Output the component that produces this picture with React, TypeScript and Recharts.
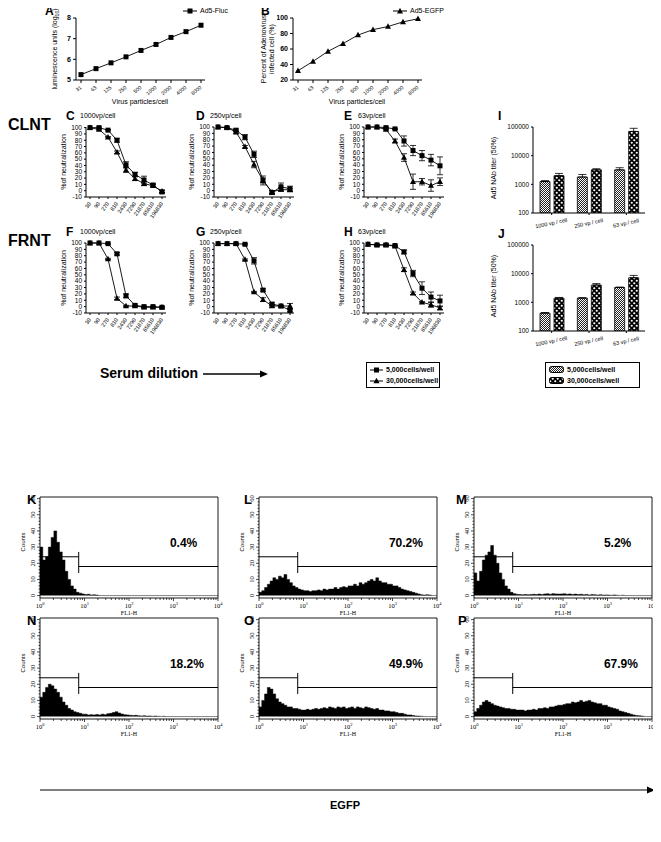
import React from 'react';
import {
  LineChart, Line, XAxis, YAxis, ErrorBar, BarChart, Bar,
  AreaChart, Area, ReferenceLine, ReferenceArea,
} from 'recharts';

const SANS = '"Liberation Sans", Arial, sans-serif';
const SERIF = '"Liberation Serif", "Times New Roman", serif';

// A / B: dose response
const doseLabels = ['31', '63', '125', '250', '500', '1000', '2000', '4000', '8000'];
const flucLog = [5.26, 5.55, 5.83, 6.12, 6.43, 6.72, 7.06, 7.34, 7.65];
const egfpPct = [32, 44, 57, 67, 78, 85, 89, 95, 99];

// C-H: neutralization curves
const dilutions = ['30', '90', '270', '810', '2430', '7290', '21870', '65610', '196830'];
const cSq = [100, 100, 96, 80, 41, 26, 17, 9, -2];
const cSqErr = [0, 1, 1, 3, 5, 3, 6, 2, 2];
const cTri = [100, 97, 85, 61, 33, 19, 11, 8, -1];
const cTriErr = [0, 1, 1, 2, 4, 3, 3, 2, 2];
const dSq = [100, 99, 95, 84, 57, 16, -3, 6, 3];
const dSqErr = [0, 1, 2, 4, 5, 7, 3, 6, 4];
const dTri = [100, 99, 92, 69, 41, 16, -2, 2, 1];
const dTriErr = [0, 1, 2, 2, 5, 4, 2, 3, 2];
const eSq = [100, 100, 99, 97, 78, 63, 55, 48, 39];
const eSqErr = [0, 0, 1, 1, 8, 8, 8, 9, 14];
const eTri = [100, 100, 96, 78, 52, 14, 14, 8, 14];
const eTriErr = [0, 0, 1, 3, 6, 12, 5, 9, 6];
const fSq = [100, 100, 99, 83, 17, 2, 0, 0, -1];
const fSqErr = [0, 0, 1, 2, 3, 2, 1, 1, 1];
const fTri = [100, 100, 75, 13, 1, 1, -1, -1, -1];
const fTriErr = [0, 0, 1, 2, 1, 1, 1, 1, 1];
const gSq = [99, 99, 99, 98, 72, 26, 4, 1, -6];
const gSqErr = [0, 0, 1, 1, 5, 2, 2, 1, 2];
const gTri = [99, 99, 99, 74, 23, 11, 1, 1, 1];
const gTriErr = [0, 0, 0, 1, 1, 3, 2, 1, 4];
const hSq = [98, 97, 97, 96, 86, 52, 29, 15, 9];
const hSqErr = [0, 1, 2, 1, 3, 5, 10, 8, 9];
const hTri = [98, 97, 97, 95, 58, 21, 7, 3, -2];
const hTriErr = [0, 1, 1, 1, 3, 2, 1, 4, 3];

// I / J: NAb titers
const titerCats = ['1000 vp / cell', '250 vp / cell', '63 vp / cell'];
const iLow = [1250, 1800, 3200];
const iLowErr = [100, 400, 600];
const iHigh = [2000, 3200, 70000];
const iHighErr = [400, 300, 20000];
const jLow = [420, 1400, 3300];
const jLowErr = [20, 50, 100];
const jHigh = [1400, 4000, 7200];
const jHighErr = [80, 500, 1500];

// K-P: FL1-H histograms, 64 bins over 10^0..10^4
const kBins = [
  30, 22, 24, 30, 36, 40, 33, 27, 22, 15, 10, 6, 4, 2, 1.5, 1,
  0.6, 0.8, 0.4, 0.5, 0.3, 0, 0, 0, 0, 0, 0, 0, 0, 0, 0, 0,
  0, 0, 0, 0, 0, 0, 0, 0, 0, 0, 0, 0, 0, 0, 0, 0,
  0, 0, 0, 0, 0, 0, 0, 0, 0, 0, 0, 0, 0, 0, 0, 0,
];
const lBins = [
  2, 3, 5, 7, 9, 11, 10, 12, 11, 13, 10, 8, 6, 5, 4, 3.5,
  3, 3, 2.5, 3, 3, 3.5, 3, 4, 3.5, 4, 4, 5, 4, 5, 5.5, 5,
  6, 6, 7, 6, 8, 7, 8, 9, 10, 9, 11, 9, 8, 8, 7, 7,
  6, 6, 5, 4, 3.5, 3, 2.5, 2, 1.5, 1, 0.5, 0.3, 0.5, 0.3, 0.1, 0,
];
const mBins = [
  14, 9, 15, 22, 25, 27, 31, 25, 20, 14, 10, 6, 4, 2, 1.2, 0.8,
  0.6, 0.5, 0.7, 0.5, 0.6, 0.8, 0.6, 0.9, 0.7, 1, 1.1, 0.8, 1.2, 1, 0.9, 1,
  1.1, 0.8, 1, 0.7, 0.9, 0.6, 0.8, 0.5, 0.7, 0.4, 0.6, 0.5, 0.3, 0.5, 0.3, 0.4,
  0.3, 0.2, 0.4, 0.2, 0.1, 0.2, 0, 0, 0, 0, 0, 0, 0, 0, 0, 0,
];
const nBins = [
  12, 15, 18, 20, 19, 17, 15, 12, 9, 7, 5, 4, 3, 2.5, 2, 1.5,
  1.5, 1, 1.2, 1, 1.3, 1, 1.5, 1.2, 1.8, 2, 2.5, 3, 2.2, 1.6, 1.2, 1,
  0.8, 0.6, 0.8, 0.5, 0.4, 0.5, 0.3, 0.4, 0.2, 0.3, 0.2, 0.1, 0.2, 0, 0, 0,
  0, 0, 0, 0, 0, 0, 0, 0, 0, 0, 0, 0, 0, 0, 0, 0,
];
const oBins = [
  6, 10, 14, 18, 17, 14, 11, 9, 8, 7, 6, 6, 5, 5, 4.5, 4,
  4, 4.5, 4, 4.5, 5, 4.5, 5, 5.5, 5, 6, 5.5, 5, 6, 5.5, 6, 5,
  5.5, 6, 5, 6, 5.5, 5, 6, 5.5, 5, 4.5, 5, 4, 4, 3.5, 3.5, 3,
  3, 2.5, 2, 2, 1.5, 1, 1, 0.6, 0.4, 0.3, 0.2, 0.1, 0, 0, 0, 0,
];
const pBins = [
  3, 5, 7, 9, 10, 9, 8, 7, 6.5, 6, 5.5, 5, 5, 4.5, 4.5, 4,
  4, 4, 3.5, 4, 4, 4.5, 4, 5, 5, 5.5, 5, 6, 6, 6.5, 7, 7,
  7.5, 8, 8, 9, 8.5, 9, 10, 9, 9.5, 10, 9, 8.5, 8, 8, 7, 7,
  6, 5.5, 5, 4.5, 3.5, 3, 2.5, 2, 1.5, 1, 0.7, 0.5, 0.3, 0.1, 0, 0,
];
const gateM1 = 24;
const gateM2 = 18;
const gateX = 0.87;

// ---------- helpers ----------
const Txt = ({ x, y, size = 7, bold = false, center = false, family = SANS, children }: any) => (
  <div style={{
    position: 'absolute', left: x, top: y, fontSize: size, fontWeight: bold ? 700 : 400,
    fontFamily: family, whiteSpace: 'nowrap', lineHeight: 1,
    transform: center ? 'translateX(-50%)' : undefined,
  }}>{children}</div>
);

const VTxt = ({ x, y, size = 7, family = SANS, children }: any) => (
  <div style={{
    position: 'absolute', left: x, top: y, fontSize: size, fontFamily: family, whiteSpace: 'nowrap',
    lineHeight: 1.1, textAlign: 'center', transform: 'translate(-50%,-50%) rotate(-90deg)',
  }}>{children}</div>
);

const SquareDot = (p: any) => (
  <rect key={`s${p.index}`} x={p.cx - 2.5} y={p.cy - 2.5} width={5} height={5} fill="#000" />
);
const TriDot = (p: any) => (
  <path key={`t${p.index}`} d={`M${p.cx},${p.cy - 3.2} L${p.cx + 3},${p.cy + 2.3} L${p.cx - 3},${p.cy + 2.3} Z`} fill="#000" />
);

const rotTick = (angle: number, size: number) => (p: any) => (
  <text x={p.x} y={p.y + 2} transform={`rotate(${angle} ${p.x} ${p.y + 2})`} textAnchor="end"
    fontSize={size} fontFamily={SANS} fill="#000" dominantBaseline="middle">{p.payload.value}</text>
);

// ---------- A / B ----------
function DosePanel({ ax, top, values, marker, domain, ticks }: any) {
  const yw = 16, mt = 4, mr = 5, xh = 16, pw = 129, ph = 62;
  const data = doseLabels.map((d, i) => ({ d, v: values[i] }));
  return (
    <div style={{ position: 'absolute', left: ax - yw, top: top - mt }}>
      <LineChart width={yw + pw + mr} height={mt + ph + xh} data={data} margin={{ top: mt, right: mr, left: 0, bottom: 0 }}>
        <XAxis dataKey="d" height={xh} padding={{ left: 5, right: 4 }} interval={0} tickSize={3}
          stroke="#000" tick={rotTick(-40, 5.2)} />
        <YAxis width={yw} domain={domain} ticks={ticks} interval={0} tickSize={3} stroke="#000"
          tick={{ fontSize: 7, fill: '#000', fontWeight: 700 }} />
        <Line dataKey="v" stroke="#000" strokeWidth={0.9} isAnimationActive={false}
          dot={marker === 'sq' ? SquareDot : TriDot} />
      </LineChart>
    </div>
  );
}

// ---------- C-H ----------
function NeutPanel({ ax, top, sq, sqE, tri, triE }: any) {
  const yw = 22, mt = 3, mr = 5, xh = 26, pw = 80, ph = 70;
  const data = dilutions.map((d, i) => ({ d, sq: sq[i], sqE: sqE[i], tri: tri[i], triE: triE[i] }));
  return (
    <div style={{ position: 'absolute', left: ax - yw, top: top - mt }}>
      <LineChart width={yw + pw + mr} height={mt + ph + xh} data={data} margin={{ top: mt, right: mr, left: 0, bottom: 0 }}>
        <XAxis dataKey="d" height={xh} padding={{ left: 4, right: 4 }} interval={0} tickSize={2}
          stroke="#000" tick={rotTick(-55, 5.5)} />
        <YAxis width={yw} domain={[-10, 100]} ticks={[-10, 0, 10, 20, 30, 40, 50, 60, 70, 80, 90, 100]}
          interval={0} tickSize={2} stroke="#000" tick={{ fontSize: 6.5, fill: '#000' }} />
        <Line dataKey="tri" stroke="#000" strokeWidth={0.9} isAnimationActive={false} dot={TriDot}>
          <ErrorBar dataKey="triE" width={3} stroke="#000" strokeWidth={0.8} />
        </Line>
        <Line dataKey="sq" stroke="#000" strokeWidth={0.9} isAnimationActive={false} dot={SquareDot}>
          <ErrorBar dataKey="sqE" width={3} stroke="#000" strokeWidth={0.8} />
        </Line>
      </LineChart>
    </div>
  );
}

// ---------- I / J ----------
const Patterns = () => (
  <defs>
    <pattern id="fineChk" width="2" height="2" patternUnits="userSpaceOnUse">
      <rect width="2" height="2" fill="#fff" />
      <rect width="1" height="1" fill="#222" />
      <rect x="1" y="1" width="1" height="1" fill="#222" />
    </pattern>
    <pattern id="bigChk" width="5" height="5" patternUnits="userSpaceOnUse">
      <rect width="5" height="5" fill="#000" />
      <circle cx="1.25" cy="1.25" r="1.1" fill="#fff" />
      <circle cx="3.75" cy="3.75" r="1.1" fill="#fff" />
    </pattern>
  </defs>
);

function TiterPanel({ ax, top, lo, loE, hi, hiE }: any) {
  const yw = 30, mt = 3, mr = 5, xh = 20, pw = 112, ph = 86;
  const data = titerCats.map((c, i) => ({ c, lo: lo[i], loE: [0, loE[i]], hi: hi[i], hiE: [0, hiE[i]] }));
  const catTick = (p: any) => (
    <text x={p.x} y={p.y + 8} transform={`rotate(-12 ${p.x} ${p.y + 8})`} textAnchor="middle"
      fontSize={5.5} fontFamily={SANS} fill="#000">{p.payload.value}</text>
  );
  return (
    <div style={{ position: 'absolute', left: ax - yw, top: top - mt }}>
      <BarChart width={yw + pw + mr} height={mt + ph + xh} data={data} margin={{ top: mt, right: mr, left: 0, bottom: 0 }}
        barGap={4} barCategoryGap="22%">
        <Patterns />
        <XAxis dataKey="c" height={xh} interval={0} tickSize={2} stroke="#000" tick={catTick} />
        <YAxis width={yw} scale="log" domain={[100, 100000]} ticks={[100, 1000, 10000, 100000]} interval={0}
          tickSize={2} stroke="#000" tick={{ fontSize: 6.5, fill: '#000' }} allowDataOverflow />
        <Bar dataKey="lo" fill="url(#fineChk)" stroke="#000" strokeWidth={0.8} barSize={10} isAnimationActive={false}>
          <ErrorBar dataKey="loE" width={4} stroke="#000" strokeWidth={0.8} />
        </Bar>
        <Bar dataKey="hi" fill="url(#bigChk)" stroke="#000" strokeWidth={0.8} barSize={10} isAnimationActive={false}>
          <ErrorBar dataKey="hiE" width={4} stroke="#000" strokeWidth={0.8} />
        </Bar>
      </BarChart>
    </div>
  );
}

// ---------- K-P ----------
const histTicks: number[] = [];
for (let d = 0; d < 4; d++) for (let m = 1; m < 10; m++) histTicks.push(d + Math.log10(m));
histTicks.push(4);

const HistXTick = (p: any) => {
  const v = p.payload.value;
  const major = Math.abs(v - Math.round(v)) < 1e-6;
  return (
    <g>
      <line x1={p.x} x2={p.x} y1={p.y} y2={p.y + (major ? 3 : 2)} stroke="#000" strokeWidth={0.7} />
      {major && (
        <text x={p.x} y={p.y + 10} textAnchor="middle" fontSize={6.5} fontFamily={SERIF} fill="#000">
          10<tspan dy={-3} fontSize={4.5}>{Math.round(v)}</tspan>
        </text>
      )}
    </g>
  );
};
const HistYTick = (p: any) => {
  const v = p.payload.value;
  const major = v % 10 === 0;
  return (
    <g>
      <line x1={p.x} x2={p.x - (major ? 3 : 1.5)} y1={p.y} y2={p.y} stroke="#000" strokeWidth={0.7} />
      {major && (
        <text x={p.x - 5} y={p.y} transform={`rotate(-90 ${p.x - 5} ${p.y})`} textAnchor="middle"
          fontSize={6.5} fontFamily={SERIF} fill="#000">{v}</text>
      )}
    </g>
  );
};
const yMinor: number[] = [];
for (let v = 0; v <= 60; v += 2) yMinor.push(v);

function HistPanel({ ax, top, bins, pct }: any) {
  const yw = 18, mt = 2, mr = 8, xh = 14, pw = 178, ph = 101;
  const data = bins.map((v: number, i: number) => ({ x: i / 16, y: v }));
  data.push({ x: 4, y: bins[bins.length - 1] });
  return (
    <>
      <div style={{ position: 'absolute', left: ax - yw, top: top - mt }}>
        <AreaChart width={yw + pw + mr} height={mt + ph + xh} data={data} margin={{ top: mt, right: mr, left: 0, bottom: 0 }}>
          <XAxis dataKey="x" type="number" domain={[0, 4]} ticks={histTicks} interval={0} height={xh}
            axisLine={false} tickLine={false} tickSize={0} tickMargin={0} tick={HistXTick} />
          <YAxis type="number" domain={[-1.5, 61]} ticks={yMinor} interval={0} width={yw}
            axisLine={false} tickLine={false} tickSize={0} tickMargin={0} tick={HistYTick} />
          <Area type="stepAfter" dataKey="y" stroke="#000" strokeWidth={0.5} fill="#000" fillOpacity={1}
            isAnimationActive={false} />
          <ReferenceArea x1={0} x2={4} y1={-1.5} y2={61} fill="none" stroke="#000" strokeWidth={0.9} />
          <ReferenceLine segment={[{ x: 0, y: gateM1 }, { x: gateX, y: gateM1 }]} stroke="#000" strokeWidth={1} />
          <ReferenceLine segment={[{ x: gateX, y: gateM2 }, { x: 4, y: gateM2 }]} stroke="#000" strokeWidth={1} />
          <ReferenceLine segment={[{ x: gateX, y: 14 }, { x: gateX, y: 27 }]} stroke="#000" strokeWidth={1} />
        </AreaChart>
      </div>
      <Txt x={ax + pw * 0.73} y={top + ph * 0.53 - 14} size={12} bold>{pct}</Txt>
      <Txt x={ax + pw / 2} y={top + ph + 12} size={6} family={SERIF} center>FL1-H</Txt>
      <VTxt x={ax - 17} y={top + ph * 0.45} size={6}>Counts</VTxt>
    </>
  );
}

const Arrow = ({ x1, x2, y, w = 1 }: any) => (
  <svg style={{ position: 'absolute', left: 0, top: 0, overflow: 'visible' }} width={1} height={1}>
    <line x1={x1} x2={x2 - 6} y1={y} y2={y} stroke="#000" strokeWidth={w} />
    <path d={`M${x2},${y} L${x2 - 8},${y - 3.5} L${x2 - 8},${y + 3.5} Z`} fill="#000" />
  </svg>
);

export default function App() {
  return (
    <div style={{ position: 'relative', width: 661, height: 842, margin: -8, background: '#fff', fontFamily: SANS, overflow: 'hidden' }}>
      {/* A */}
      <Txt x={45} y={5} size={12} bold>A</Txt>
      <DosePanel ax={76} top={18} values={flucLog} marker="sq" domain={[5, 8]} ticks={[5, 6, 7, 8]} />
      <VTxt x={56} y={49} size={7}>luminescence units (log<sub style={{ fontSize: 5 }}>10</sub>)</VTxt>
      <Txt x={140} y={98} size={7} center>Virus particles/cell</Txt>
      <svg style={{ position: 'absolute', left: 182, top: 6 }} width={16} height={10}>
        <line x1={1} x2={15} y1={5} y2={5} stroke="#000" /><rect x={5.5} y={2.5} width={5} height={5} fill="#000" />
      </svg>
      <Txt x={200} y={7} size={7}>Ad5-Fluc</Txt>
      {/* B */}
      <Txt x={261} y={5} size={12} bold>B</Txt>
      <DosePanel ax={293} top={18} values={egfpPct} marker="tri" domain={[20, 100]} ticks={[20, 40, 60, 80, 100]} />
      <VTxt x={268} y={49} size={7}>Percent of Adenovirus<br />infected cell (%)</VTxt>
      <Txt x={357} y={98} size={7} center>Virus particles/cell</Txt>
      <svg style={{ position: 'absolute', left: 392, top: 6 }} width={16} height={10}>
        <line x1={1} x2={15} y1={5} y2={5} stroke="#000" /><path d="M8,1.8 L11,7.5 L5,7.5 Z" fill="#000" />
      </svg>
      <Txt x={410} y={7} size={7}>Ad5-EGFP</Txt>

      {/* CLNT row */}
      <Txt x={8} y={117} size={16} bold>CLNT</Txt>
      <Txt x={66} y={110} size={12} bold>C</Txt>
      <Txt x={80} y={112} size={7}>1000vp/cell</Txt>
      <NeutPanel ax={86} top={127} sq={cSq} sqE={cSqErr} tri={cTri} triE={cTriErr} />
      <VTxt x={64} y={162} size={7}>%of neutralization</VTxt>
      <Txt x={196} y={110} size={12} bold>D</Txt>
      <Txt x={210} y={112} size={7}>250vp/cell</Txt>
      <NeutPanel ax={214} top={127} sq={dSq} sqE={dSqErr} tri={dTri} triE={dTriErr} />
      <VTxt x={192} y={162} size={7}>%of neutralization</VTxt>
      <Txt x={344} y={110} size={12} bold>E</Txt>
      <Txt x={358} y={112} size={7}>63vp/cell</Txt>
      <NeutPanel ax={364} top={127} sq={eSq} sqE={eSqErr} tri={eTri} triE={eTriErr} />
      <VTxt x={342} y={162} size={7}>%of neutralization</VTxt>
      <Txt x={498} y={110} size={12} bold>I</Txt>
      <TiterPanel ax={533} top={127} lo={iLow} loE={iLowErr} hi={iHigh} hiE={iHighErr} />
      <VTxt x={494} y={168} size={7}>Ad5 NAb titer (50%)</VTxt>

      {/* FRNT row */}
      <Txt x={8} y={233} size={16} bold>FRNT</Txt>
      <Txt x={66} y={226} size={12} bold>F</Txt>
      <Txt x={80} y={228} size={7}>1000vp/cell</Txt>
      <NeutPanel ax={86} top={243} sq={fSq} sqE={fSqErr} tri={fTri} triE={fTriErr} />
      <VTxt x={64} y={278} size={7}>%of neutralization</VTxt>
      <Txt x={196} y={226} size={12} bold>G</Txt>
      <Txt x={210} y={228} size={7}>250vp/cell</Txt>
      <NeutPanel ax={214} top={243} sq={gSq} sqE={gSqErr} tri={gTri} triE={gTriErr} />
      <VTxt x={192} y={278} size={7}>%of neutralization</VTxt>
      <Txt x={344} y={226} size={12} bold>H</Txt>
      <Txt x={358} y={228} size={7}>63vp/cell</Txt>
      <NeutPanel ax={364} top={243} sq={hSq} sqE={hSqErr} tri={hTri} triE={hTriErr} />
      <VTxt x={342} y={278} size={7}>%of neutralization</VTxt>
      <Txt x={498} y={228} size={12} bold>J</Txt>
      <TiterPanel ax={533} top={245} lo={jLow} loE={jLowErr} hi={jHigh} hiE={jHighErr} />
      <VTxt x={494} y={286} size={7}>Ad5 NAb titer (50%)</VTxt>

      {/* serum dilution + legends */}
      <Txt x={100} y={366} size={14} bold>Serum dilution</Txt>
      <Arrow x1={203} x2={268} y={374} w={1.5} />
      <div style={{ position: 'absolute', left: 366, top: 362, width: 74, height: 26, border: '1px solid #000', boxSizing: 'border-box' }}>
        <svg style={{ position: 'absolute', left: 3, top: 2 }} width={14} height={22}>
          <line x1={0} x2={13} y1={5} y2={5} stroke="#000" /><rect x={4} y={2.5} width={5} height={5} fill="#000" />
          <line x1={0} x2={13} y1={16} y2={16} stroke="#000" /><path d="M6.5,12.8 L9.5,18.3 L3.5,18.3 Z" fill="#000" />
        </svg>
        <Txt x={19} y={3} size={7} bold>5,000cells/well</Txt>
        <Txt x={19} y={14} size={7} bold>30,000cells/well</Txt>
      </div>
      <div style={{ position: 'absolute', left: 545, top: 362, width: 95, height: 26, border: '1px solid #000', boxSizing: 'border-box' }}>
        <svg style={{ position: 'absolute', left: 3, top: 2 }} width={16} height={22}>
          <Patterns />
          <rect x={0.5} y={1.5} width={14} height={6} rx={2} fill="url(#fineChk)" stroke="#000" />
          <rect x={0.5} y={12.5} width={14} height={6} rx={2} fill="url(#bigChk)" stroke="#000" />
        </svg>
        <Txt x={21} y={3} size={7} bold>5,000cells/well</Txt>
        <Txt x={21} y={14} size={7} bold>30,000cells/well</Txt>
      </div>

      {/* histograms */}
      <Txt x={27} y={493} size={13} bold>K</Txt>
      <HistPanel ax={40} top={497} bins={kBins} pct="0.4%" />
      <Txt x={244} y={493} size={13} bold>L</Txt>
      <HistPanel ax={259} top={497} bins={lBins} pct="70.2%" />
      <Txt x={456} y={493} size={13} bold>M</Txt>
      <HistPanel ax={474} top={497} bins={mBins} pct="5.2%" />
      <Txt x={27} y={614} size={13} bold>N</Txt>
      <HistPanel ax={40} top={618} bins={nBins} pct="18.2%" />
      <Txt x={244} y={614} size={13} bold>O</Txt>
      <HistPanel ax={259} top={618} bins={oBins} pct="49.9%" />
      <Txt x={458} y={614} size={13} bold>P</Txt>
      <HistPanel ax={474} top={618} bins={pBins} pct="67.9%" />

      <Arrow x1={40} x2={655} y={790} w={1} />
      <Txt x={345} y={800} size={11} bold center>EGFP</Txt>
    </div>
  );
}
